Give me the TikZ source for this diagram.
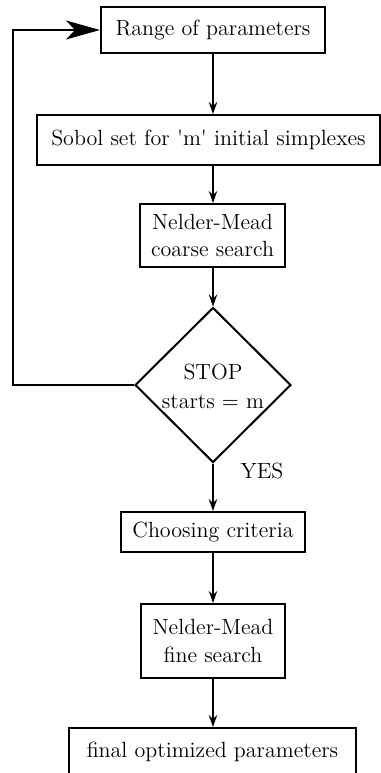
\documentclass[tikz,border=0pt]{standalone}
\usepackage{fontspec}
\usetikzlibrary{shapes.geometric,arrows.meta}
\begin{document}
\begin{tikzpicture}[x=0.5pt,y=-0.5pt,
  font=\fontsize{11}{13.6}\selectfont,
  box/.style={draw,line width=1pt,inner sep=0pt,align=center},
  dec/.style={draw,line width=1pt,shape=diamond,inner sep=0pt,align=center},
  flow/.style={line width=1pt,-{Stealth[length=6pt,width=4.2pt,inset=2pt]}},
  back/.style={line width=1pt,-{Stealth[length=17pt,width=9.5pt,inset=4.5pt]}}]
\useasboundingbox (0,0) rectangle (381,773);
\node[box,minimum width=112pt,minimum height=23pt] (range) at (213,30) {Range of parameters};
\node[box,minimum width=171.5pt,minimum height=25pt] (sobol) at (208.5,140) {Sobol set for \textquotesingle m\textquotesingle\ initial simplexes};
\node[box,minimum width=72.5pt,minimum height=31.5pt] (coarse) at (212.5,235.5) {Nelder-Mead\\coarse search};
\node[dec,minimum width=78pt,minimum height=77.5pt] (stop) at (213,385) {\rule{0pt}{9pt}STOP\\[0.6pt]starts $=$ m};
\node[box,minimum width=92pt,minimum height=20pt] (crit) at (213,532) {Choosing criteria};
\node[box,minimum width=72pt,minimum height=37pt] (fine) at (213,641) {Nelder-Mead\\fine search};
\node[box,minimum width=143.5pt,minimum height=24pt] (final) at (212.5,752) {final optimized parameters};
\node (yes) at (262,471) {YES};
\coordinate (fb) at (13,385);
\draw[flow] (range.south) -- (range.south |- sobol.north);
\draw[flow] (range.south |- sobol.south) -- (range.south |- coarse.north);
\draw[flow] (range.south |- coarse.south) -- (stop.north);
\draw[flow] (stop.south) -- (crit.north);
\draw[flow] (crit.south) -- (fine.north);
\draw[flow] (fine.south) -- (fine.south |- final.north);
\draw[back] (stop.west) -- (fb) |- (range.west);
\end{tikzpicture}
\end{document}
